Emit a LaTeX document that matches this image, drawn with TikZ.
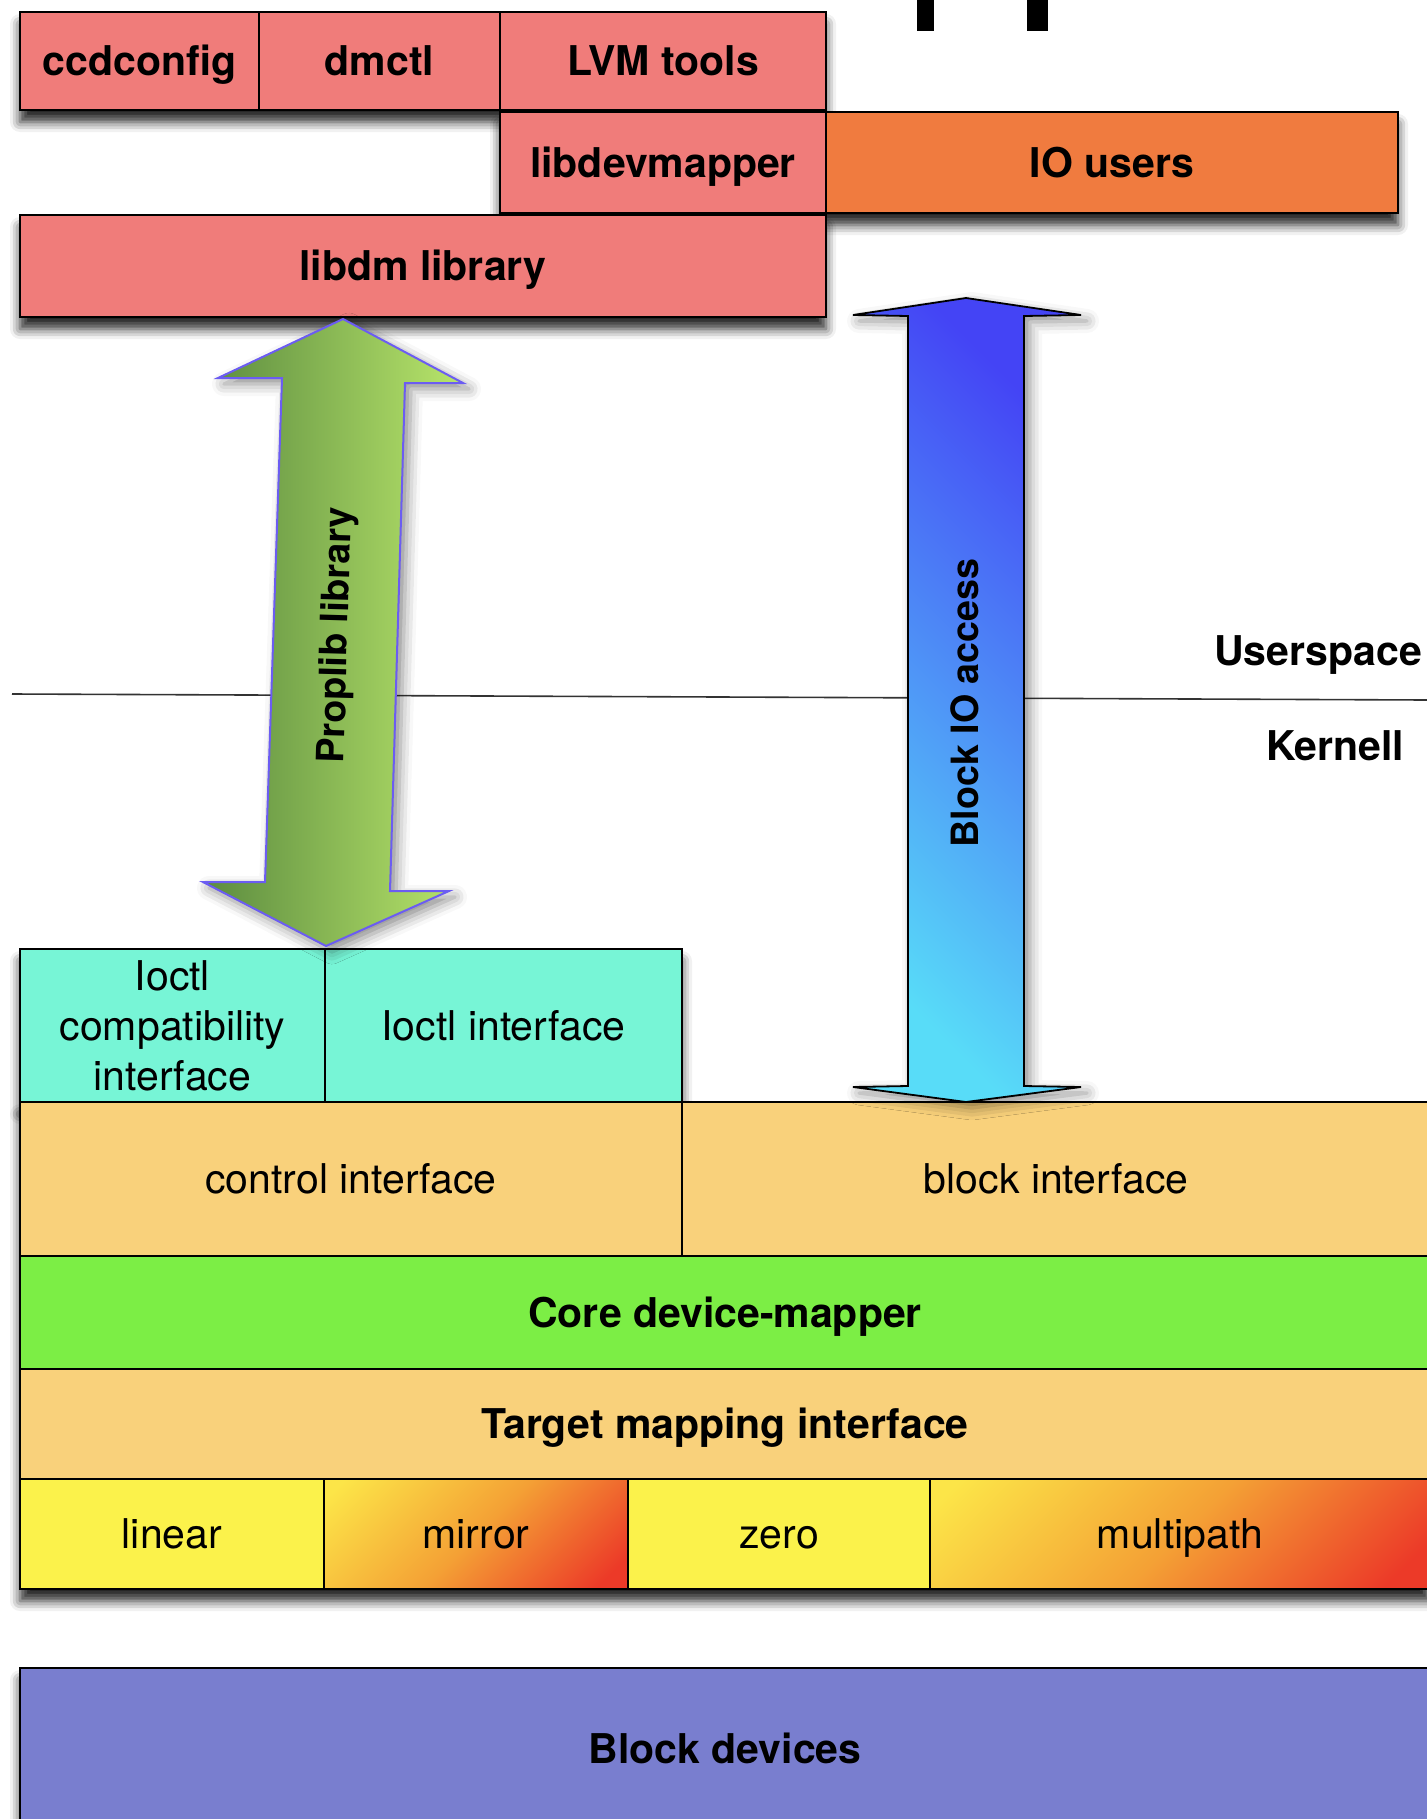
\documentclass[tikz,border=0pt]{standalone}
\usepackage{fontspec}
\setmainfont{TeX Gyre Heros}
\usetikzlibrary{shadows.blur}
\definecolor{libred}{HTML}{F07C7A}
\definecolor{iouser}{HTML}{F07B3F}
\definecolor{ioctlteal}{HTML}{77F5D6}
\definecolor{ifacetan}{HTML}{F9D17B}
\definecolor{coregreen}{HTML}{7CEE45}
\definecolor{tgtyellow}{HTML}{FBF24B}
\definecolor{tgtlight}{HTML}{FCE548}
\definecolor{tgtorange}{HTML}{F4A135}
\definecolor{tgtred}{HTML}{EC3A28}
\definecolor{devpurple}{HTML}{797ECF}
\definecolor{propdark}{HTML}{5B8B3F}
\definecolor{proplight}{HTML}{B9E66B}
\definecolor{propedge}{HTML}{6B5CF2}
\definecolor{bioblue}{HTML}{4444F5}
\definecolor{biocyan}{HTML}{58DCF8}
\pgfdeclareverticalshading{tgtshade}{100bp}{color(0bp)=(tgtred); color(20bp)=(tgtred);
  color(50bp)=(tgtorange); color(82bp)=(tgtlight); color(100bp)=(tgtlight)}
\tikzset{
  cell/.style={draw=black, line width=1.1pt},
  lbl/.style={font=\fontsize{20.5}{25}\selectfont, align=center, inner sep=0pt},
  blbl/.style={lbl, font=\fontsize{20.5}{25}\selectfont\bfseries},
  one/.style={text height=14.7pt, text depth=0pt},
  rlbl/.style={lbl, font=\fontsize{18.8}{22}\selectfont\bfseries, text height=13.5pt, text depth=0pt},
  shadowed/.style={blur shadow={shadow xshift=0pt, shadow yshift=-6pt, shadow blur radius=5pt, shadow opacity=85}},
  grad/.style={cell, shade, shading=tgtshade, shading angle=45},
}
\begin{document}
\begin{tikzpicture}[x=0.5pt, y=-0.5pt]
    \useasboundingbox (0,0) rectangle (1427,1819);
    \clip (0,0) rectangle (1427,1819);
    \fill[black] (917,0) rectangle (934,31);
    \fill[black] (1027,0) rectangle (1048,31);

    \coordinate (lineW) at (12,694);
    \coordinate (lineE) at (1427,700);
    \draw[line width=0.8pt, black!80] (lineW) -- (lineE);
    \node[blbl, one] (user) at (1318,651) {Userspace};
    \node[blbl, one] (kern) at (1335,746) {Kernell};

    \path[shadowed] (20,12) rectangle (826,110);
    \path[shadowed] (500,112) rectangle (1398,213);
    \path[shadowed] (20,215) rectangle (826,317);
    \path[shadowed] (20,949) rectangle (682,1102);
    \path[shadowed] (20,1102) rectangle (1430,1589);
    \path[shadowed] (20,1668) rectangle (1430,1830);

    \draw[cell, fill=libred] (20,12) rectangle node[blbl, one] (ccd) {ccdconfig} (259,110);
    \draw[cell, fill=libred] (259,12) rectangle node[blbl, one] (dmctl) {dmctl} (500,110);
    \draw[cell, fill=libred] (500,12) rectangle node[blbl, one] (lvm) {LVM tools} (826,110);
    \draw[cell, fill=libred] (500,112) rectangle node[blbl, one] (libdev) {libdevmapper} (826,213);
    \draw[cell, fill=iouser] (826,112) rectangle node[blbl, one] (iousers) {IO users} (1398,213);
    \draw[cell, fill=libred] (20,215) rectangle node[blbl, one] (libdm) {libdm library} (826,317);

    \draw[cell, fill=ioctlteal] (20,949) rectangle node[lbl] (compat) {Ioctl\\compatibility\\interface} (325,1102);
    \draw[cell, fill=ioctlteal] (325,949) rectangle node[lbl, one] (ioctl) {Ioctl interface} (682,1102);

    \draw[cell, fill=ifacetan] (20,1102) rectangle node[lbl, one] (ctrl) {control interface} (682,1256);
    \draw[cell, fill=ifacetan] (682,1102) rectangle node[lbl, one] (blkif) {block interface} (1430,1256);
    \draw[cell, fill=coregreen] (20,1256) rectangle node[blbl, one] (core) {Core device-mapper} (1430,1369);
    \draw[cell, fill=ifacetan] (20,1369) rectangle node[blbl, one] (tmi) {Target mapping interface} (1430,1479);
    \draw[cell, fill=tgtyellow] (20,1479) rectangle node[lbl, one] (linear) {linear} (324,1589);
    \draw[grad] (324,1479) rectangle node[lbl, one] (mirror) {mirror} (628,1589);
    \draw[cell, fill=tgtyellow] (628,1479) rectangle node[lbl, one] (zero) {zero} (930,1589);
    \draw[grad] (930,1479) rectangle node[lbl, one] (mpath) {multipath} (1430,1589);

    \draw[cell, fill=devpurple] (20,1668) rectangle node[blbl, one] (blkdev) {Block devices} (1430,1830);

    \draw[line width=1pt, draw=propedge, left color=propdark, right color=proplight,
        blur shadow={shadow xshift=3pt, shadow yshift=-3pt, shadow blur radius=6pt, shadow opacity=45}]
        (343,319) -- (463,383) -- (405,383) -- (390,891) -- (449,891) -- (326,946)
        -- (203,882) -- (265,882) -- (282,378) -- (218,378) -- cycle;
    \node[rlbl, rotate=88.4] (proplib) at (334,635) {Proplib library};

    \draw[line width=0.9pt, draw=black, top color=bioblue, bottom color=biocyan, shading angle=-45,
        blur shadow={shadow xshift=3pt, shadow yshift=-3pt, shadow blur radius=6pt, shadow opacity=45}]
        (966,298) -- (1081,315) -- (1024,316) -- (1024,1086) -- (1081,1087) -- (966,1102)
        -- (853,1087) -- (908,1086) -- (908,316) -- (853,315) -- cycle;
    \node[rlbl, rotate=90] (blockio) at (965,703) {Block IO access};
\end{tikzpicture}
\end{document}
